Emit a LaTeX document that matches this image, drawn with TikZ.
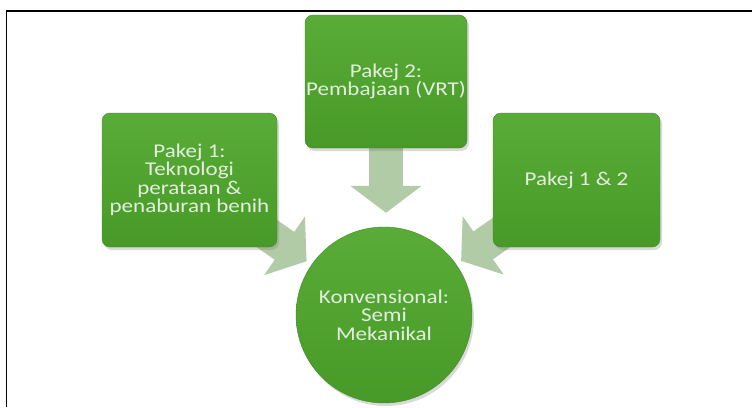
\documentclass[tikz,border=0pt]{standalone}
\usepackage{fontspec}
\setmainfont{Carlito}[FakeStretch=1.18]
\usetikzlibrary{arrows.meta,shadows,backgrounds}

\definecolor{boxgreentop}{RGB}{90,172,56}
\definecolor{boxgreenbot}{RGB}{72,154,40}
\definecolor{boxedge}{RGB}{62,138,34}
\definecolor{arrowgreen}{RGB}{176,203,166}
\definecolor{labelgreen}{RGB}{228,238,222}

\tikzset{
  pakejbox/.style={rectangle, rounded corners=8pt, inner sep=0pt,
    top color=boxgreentop, bottom color=boxgreenbot, draw=boxedge,
    text=labelgreen, align=center, font=\fontsize{19.5}{18.5}\selectfont,
    drop shadow={opacity=0.3, shadow xshift=2pt, shadow yshift=-3pt}},
  konvcircle/.style={circle, inner sep=0pt, minimum size=176pt,
    top color=boxgreentop, bottom color=boxgreenbot, draw=boxedge,
    text=labelgreen, align=center, font=\fontsize{19.5}{18.5}\selectfont,
    drop shadow={opacity=0.3, shadow xshift=2pt, shadow yshift=-3pt}},
  flowarrow/.style={draw=arrowgreen, line width=34pt,
    -{Triangle[width=70pt,length=27pt]}}
}

\begin{document}
\begin{tikzpicture}[x=1pt,y=-1pt]

\useasboundingbox (0,0) rectangle (752,407);

% Frame
\draw[line width=1.5pt] (6.5,407) -- (6.5,11) -- (752,11);

% Boxes and circle
\node[pakejbox, minimum width=162pt, minimum height=133pt] (pakej2) at (386,81.5) {Pakej 2:\\Pembajaan (VRT)};
\node[pakejbox, minimum width=175pt, minimum height=134pt] (pakej1) at (189.5,180) {Pakej 1:\\Teknologi\\perataan \&\\penaburan benih};
\node[pakejbox, minimum width=167pt, minimum height=134pt] (pakej12) at (576.5,180) {Pakej 1 \& 2};
\node[konvcircle] (konv) at (384,315) {Konvensional:\\Semi\\Mekanikal};

% Arrows behind the shapes
\begin{pgfonlayer}{background}
\draw[flowarrow, shorten <=-30pt, shorten >=14pt] (pakej2.south) -- (pakej2.south |- konv.north);
\draw[flowarrow, shorten <=-40pt, shorten >=6pt] (pakej1) -- (konv);
\draw[flowarrow, shorten <=-40pt, shorten >=6pt] (pakej12) -- (konv);
\end{pgfonlayer}

\end{tikzpicture}
\end{document}
